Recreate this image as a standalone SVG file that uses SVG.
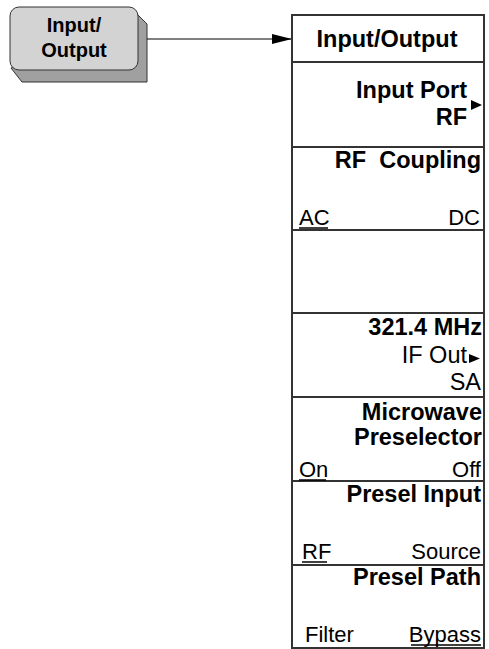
<svg xmlns="http://www.w3.org/2000/svg" width="489" height="649" viewBox="0 0 489 649">
<style>
.b{font-family:"Liberation Sans",Arial,sans-serif;font-weight:bold;font-size:23.5px;fill:#000}
.r{font-family:"Liberation Sans",Arial,sans-serif;font-size:22px;fill:#000}
.e{text-anchor:end}
.m{text-anchor:middle}
.ln{stroke:#333;stroke-width:2;fill:none}
.u{stroke:#000;stroke-width:1.5}
</style>
<defs>
<marker id="ah" markerWidth="20" markerHeight="10" refX="20" refY="5" orient="auto" markerUnits="userSpaceOnUse">
<path d="M0,0 L20,5 L0,10 Z" fill="#000"/>
</marker>
</defs>
<g id="key">
<path d="M132,9 L147,24 L147,82 L22,82 L11,68 Z" fill="#a0a0a0" stroke="#333" stroke-width="1"/>
<rect x="10" y="7" width="128" height="63" rx="9" fill="#d3d3d3" stroke="#333" stroke-width="1"/>
<text class="b m" x="74" y="32" style="font-size:20px">Input/</text>
<text class="b m" x="74" y="57" style="font-size:20px">Output</text>
</g>
<g id="connectors">
<path d="M147,39 L292,39" stroke="#000" stroke-width="1" marker-end="url(#ah)"/>
</g>
<g id="panel">
<rect x="292" y="15" width="192" height="633" fill="#fff" stroke="#333" stroke-width="2"/>
<path class="ln" d="M292,62H484M292,147H484M292,230H484M292,313H484M292,397H484M292,481H484M292,565H484"/>
</g>
<g id="title"><text class="b m" x="387" y="47">Input/Output</text></g>
<g id="inputport">
<text class="b e" x="467" y="98">Input Port</text>
<text class="b e" x="467" y="125">RF</text>
<path d="M471,100 L482,105 L471,110 Z" fill="#000"/>
</g>
<g id="rfcoupling">
<text class="b e" x="481" y="168" xml:space="preserve">RF  Coupling</text>
<text class="r" x="299" y="225">AC</text>
<path class="u" d="M299,228H328"/>
<text class="r e" x="480" y="225">DC</text>
</g>
<g id="ifout">
<text class="b e" x="482" y="335">321.4 MHz</text>
<text class="r e" x="467" y="363" style="font-size:23.5px">IF Out</text>
<path d="M469,354 L480,358.5 L469,363 Z" fill="#000"/>
<text class="r e" x="481" y="390" style="font-size:23.5px">SA</text>
</g>
<g id="preselector">
<text class="b e" x="482" y="420">Microwave</text>
<text class="b e" x="482" y="445">Preselector</text>
<text class="r" x="299" y="477">On</text>
<path class="u" d="M299,480H326"/>
<text class="r e" x="481" y="477">Off</text>
</g>
<g id="preselinput">
<text class="b e" x="481" y="502">Presel Input</text>
<text class="r" x="302" y="559">RF</text>
<path class="u" d="M302,562H327"/>
<text class="r e" x="481" y="559">Source</text>
</g>
<g id="preselpath">
<text class="b e" x="481" y="585">Presel Path</text>
<text class="r" x="305" y="642">Filter</text>
<text class="r e" x="481" y="642">Bypass</text>
<path class="u" d="M411,645H481"/>
</g>
</svg>
